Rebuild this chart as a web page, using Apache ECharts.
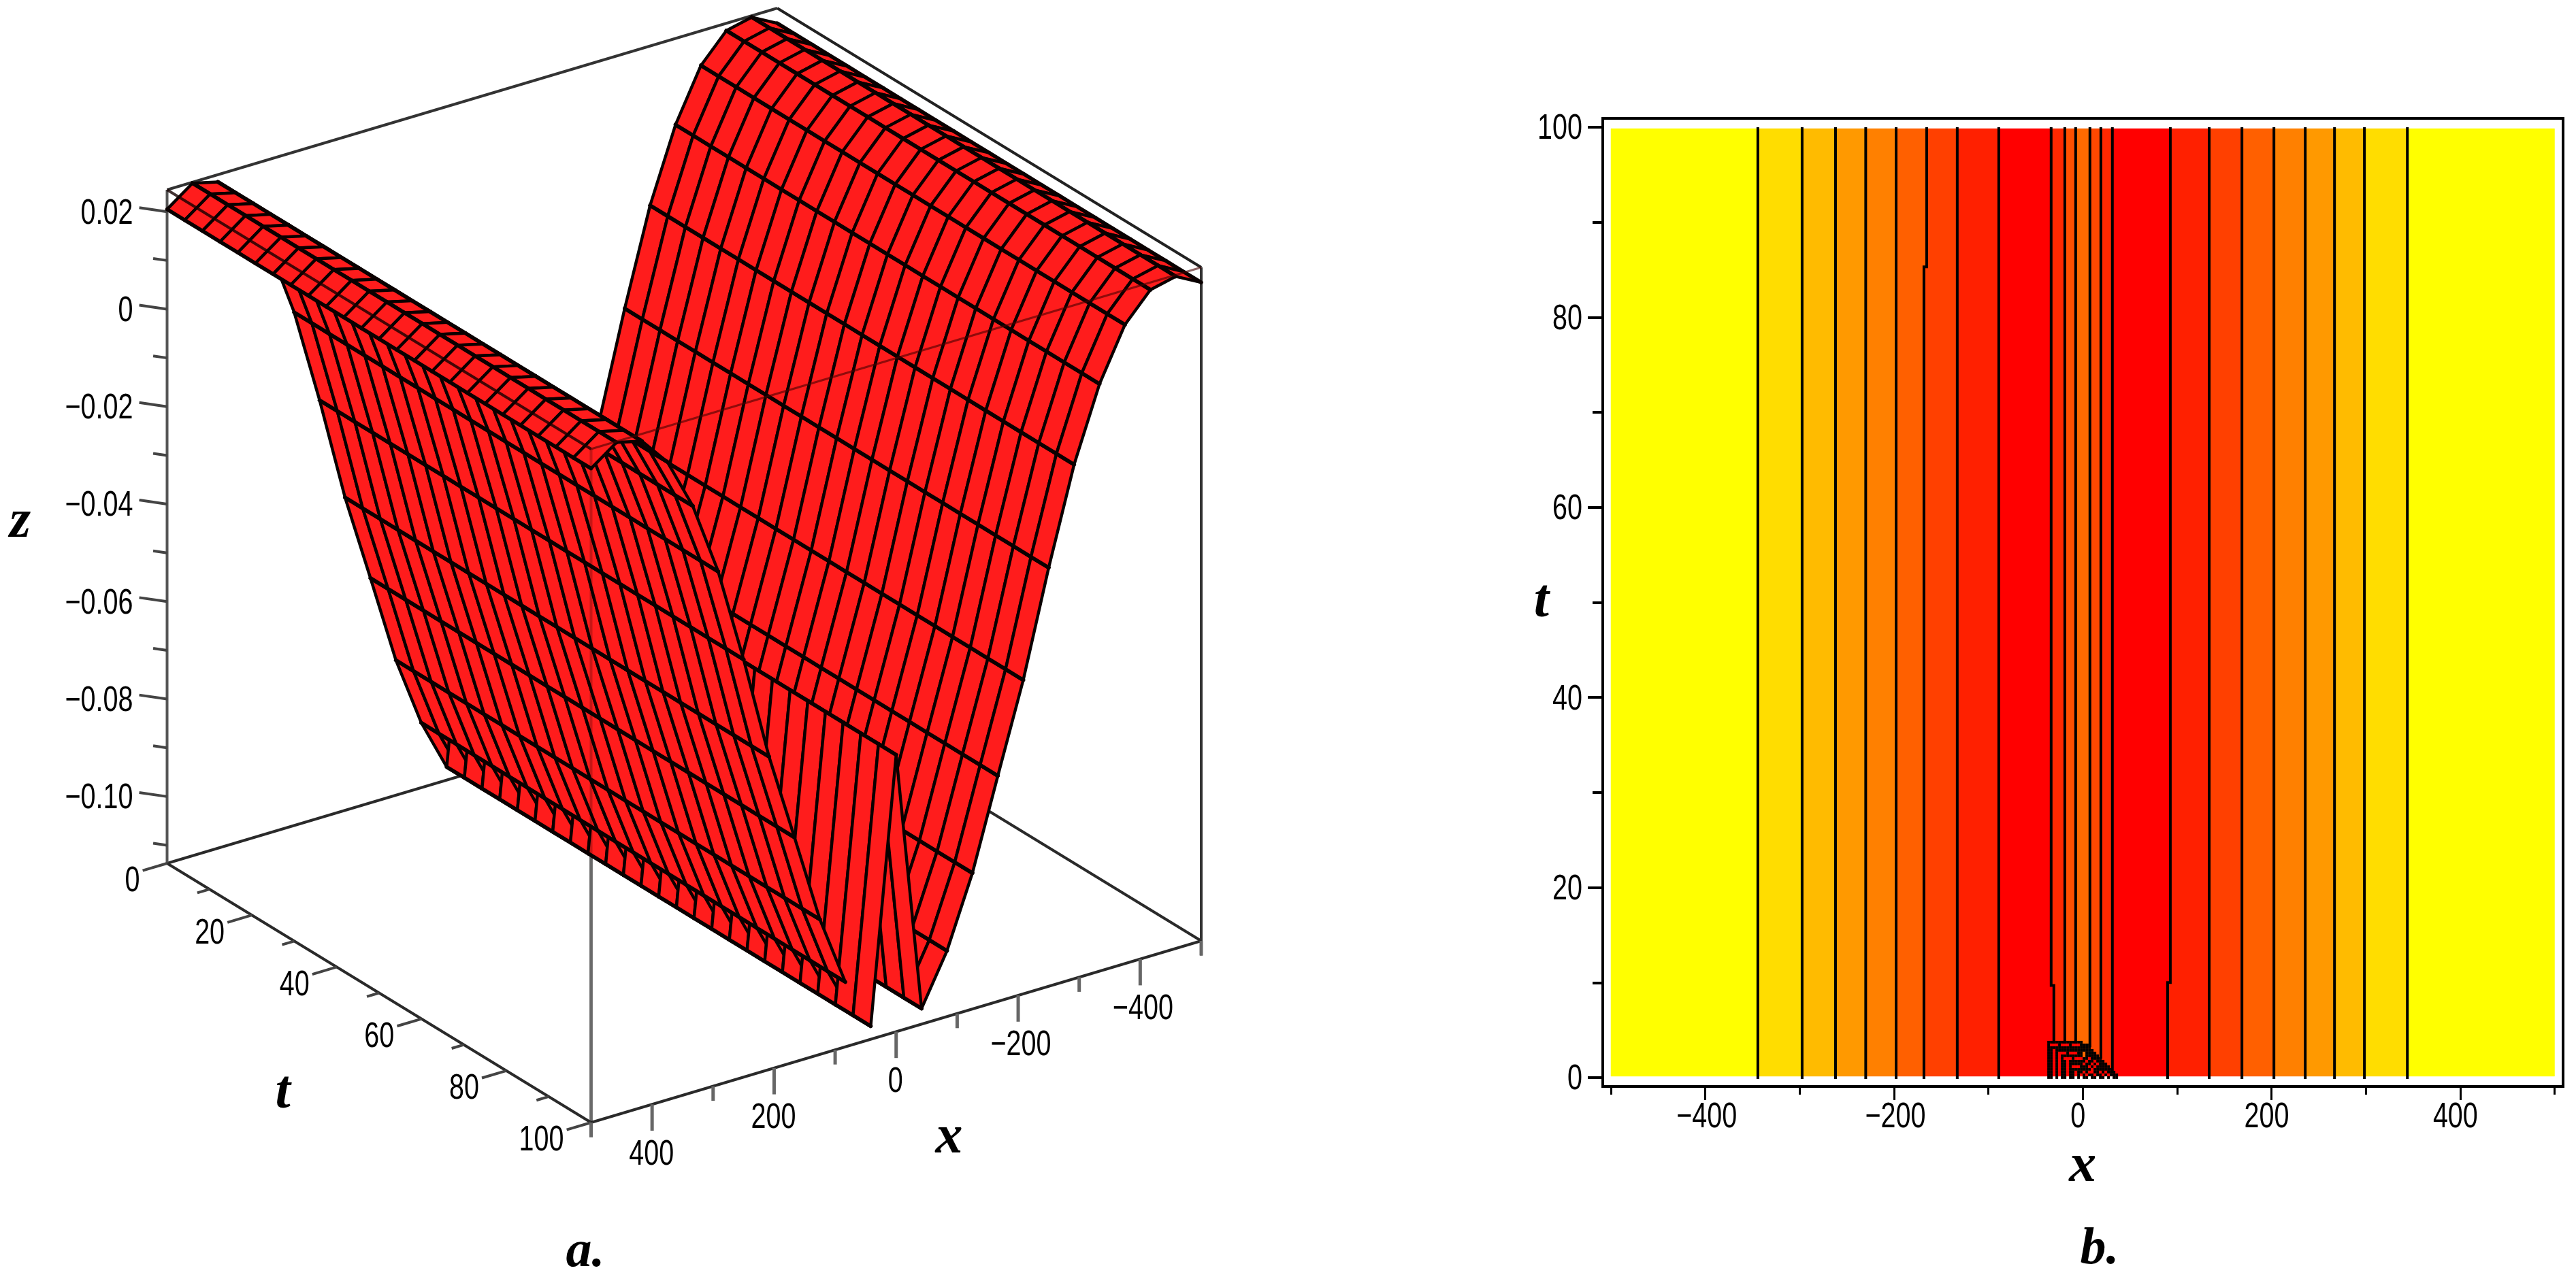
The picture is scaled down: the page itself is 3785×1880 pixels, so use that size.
<!DOCTYPE html>
<html>
<head>
<meta charset="utf-8">
<style>html,body{margin:0;padding:0;background:#fff}#c{width:3785px;height:1880px}</style>
<script src="https://cdn.jsdelivr.net/npm/echarts@6/dist/echarts.min.js"></script>
</head>
<body>
<div id="c"></div>
<script>
// ---------- panel a: surface data ----------
const xValues = [-500,-458.33,-416.67,-375,-333.33,-291.67,-250,-208.33,-166.67,-125,-83.33,-41.67,0,41.67,83.33,125,166.67,208.33,250,291.67,333.33,375,416.67,458.33,500];
const tValues = [0,4.17,8.33,12.5,16.67,20.83,25,29.17,33.33,37.5,41.67,45.83,50,54.17,58.33,62.5,66.67,70.83,75,79.17,83.33,87.5,91.67,95.83,100];
const zProfile = [0.0214,0.0242,0.0230,0.0174,0.0068,-0.0082,-0.0278,-0.0493,-0.0674,-0.0858,-0.1002,-0.1105,-0.0569,-0.1110,-0.1004,-0.0860,-0.0676,-0.0495,-0.0280,-0.0084,0.0066,0.0172,0.0230,0.0243,0.0205];
const zMin = -0.1137, zMax = 0.0245;
const zMajor = [0.02,0,-0.02,-0.04,-0.06,-0.08,-0.10];
const zMinor = [0.01,-0.01,-0.03,-0.05,-0.07,-0.09,-0.11];
const zLabels = ['0.02','0','\u22120.02','\u22120.04','\u22120.06','\u22120.08','\u22120.10'];
const tMajor3d = [0,20,40,60,80,100];
const tMinor3d = [10,30,50,70,90];
const xMajor3d = [400,200,0,-200,-400];
const xMinor3d = [500,300,100,-100,-300,-500];
// ---------- panel b: contour data ----------
const contourLines = [
 [[-344.3,100],[-344.3,-0.15]],
 [[-297.4,100],[-297.4,-0.15]],
 [[-262,100],[-262,-0.15]],
 [[-230,100],[-230,-0.15]],
 [[-197.8,100],[-197.8,-0.15]],
 [[-165.4,100],[-165.4,85.3],[-168.3,85.3],[-168.3,-0.15]],
 [[-133,100],[-133,-0.15]],
 [[-89,100],[-89,-0.15]],
 [[-33.5,100],[-33.5,9.7],[-30.6,9.7],[-30.6,3.5]],
 [[-19,100],[-19,3.5]],
 [[-7.5,100],[-7.5,3.5]],
 [[7.6,100],[7.6,3.2]],
 [[19.2,100],[19.2,2]],
 [[31.4,100],[31.4,0.5]],
 [[92.8,100],[92.8,10],[89.9,10],[89.9,-0.15]],
 [[134,100],[134,-0.15]],
 [[168.7,100],[168.7,-0.15]],
 [[202.6,100],[202.6,-0.15]],
 [[235.8,100],[235.8,-0.15]],
 [[266.8,100],[266.8,-0.15]],
 [[298.5,100],[298.5,-0.15]],
 [[344,100],[344,-0.15]]
];
const bandColors = ['#FFFF00','#FFDD00','#FFBB00','#FF9900','#FF8000','#FF6000','#FF4000','#FF2000','#FF0000','#FF2800','#FF5000','#FF6A00','#FF4800','#FF2800','#FF0000','#FF2000','#FF4000','#FF6000','#FF8000','#FF9900','#FFBB00','#FFDD00','#FFFF00'];
const blobRows = [
 'KKKKKKKKKKKKK.............',
 'KrrrKrrrKrrrKKKK..........',
 'KKKKKKKKKKKKKKKK..........',
 'KKrKKKKKKKKKKKKKK.........',
 'KKrKrrrKrrrKKoKKKK........',
 'KKrKrKKKKKKKKoKKKKK.......',
 'KKrKrKrrrKrrrKKrKKKK......',
 'KKrKrKKrKKKKKKrKKrKKK.....',
 'KKrKrKKrKKKKKrKKrKrKKK....',
 'KKrKrKKrKrrrKKKrKrKKKKK...',
 'KKrKrKKrKKKKKKKKrKKKKKKK..',
 'KKrKrKKrKKrKKrKrrKKrKrKKK.',
 'KKrKrKKrKKrKrKrKKrKKrKrKKK',
 'KK.K.KK.KK.K.KK.KK.KK.K.KK'
];
const xTickMajor2d = [-400,-200,0,200,400];
const tTickMajor2d = [0,20,40,60,80,100];

const LABEL_FONT = '52px "Liberation Sans",sans-serif';
const LABEL_SCALE = 0.76;
const NAME_FONT = 'italic bold 80px "Liberation Serif",serif';

// ---------- oblique box projection onto the hidden plane axes ----------
function plane(x,t,z){
  const X=(500-x)/1000, T=t/100, Z=(z-zMin)/(zMax-zMin);
  return [X*896.5+T*623, (1-T)*381+X*267+Z*990];
}
function depth(x,t,z){
  const X=(500-x)/1000, T=t/100, Z=(z-zMin)/(zMax-zMin);
  return -0.5163*X+0.743*T+0.4252*Z;
}
const quads=[];
for(let i=0;i<xValues.length-1;i++){
  for(let j=0;j<tValues.length-1;j++){
    const corners=[[i,j],[i+1,j],[i+1,j+1],[i,j+1]].map(([a,b])=>[xValues[a],tValues[b],zProfile[a]]);
    const d=corners.reduce((s,c)=>s+depth(c[0],c[1],c[2]),0)/4;
    quads.push({corners,d});
  }
}
quads.sort((a,b)=>a.d-b.d);

const backSegs=[], frontSegs=[], texts=[];
function seg(list,p,q,color,w){list.push({p,q,color,w});}
const K='#2a2a2a';
seg(backSegs,[500,0,zMin],[-500,0,zMin],K,4);
seg(backSegs,[-500,0,zMin],[-500,100,zMin],K,4);
seg(backSegs,[500,0,zMax],[-500,0,zMax],'#333',4);
seg(backSegs,[-500,0,zMax],[-500,100,zMax],'#222',4);
seg(backSegs,[500,0,zMin],[500,0,zMax],'#555',4);
seg(backSegs,[-500,100,zMin-0.003],[-500,100,zMax],'#333',4);
seg(backSegs,[500,100,zMin-0.003],[500,100,zMax],'#888',5);
seg(backSegs,[500,0,zMin],[500,100,zMin],K,4);
seg(backSegs,[500,100,zMin],[-500,100,zMin],K,4);
tMajor3d.forEach(t=>seg(backSegs,[500,t,zMin],[540,t,zMin],'#444',4));
tMinor3d.forEach(t=>seg(backSegs,[500,t,zMin],[520,t,zMin],'#444',4));
xMajor3d.forEach(x=>seg(backSegs,[x,100,zMin],[x,100,zMin-0.0054],'#666',5));
xMinor3d.forEach(x=>seg(backSegs,[x,100,zMin],[x,100,zMin-0.003],'#666',5));
function zTick(z,a){return [[500,0,z],[500+23.4*a,-3.2*a,z]];}
zMajor.forEach(z=>{const s=zTick(z,1);seg(backSegs,s[0],s[1],'#444',4);});
zMinor.forEach(z=>{const s=zTick(z,0.5);seg(backSegs,s[0],s[1],'#444',4);});
seg(frontSegs,[500,100,zMin],[500,100,zMax],'rgba(0,0,0,0.22)',4);
seg(frontSegs,[500,100,zMax],[-500,100,zMax],'rgba(70,0,0,0.6)',3);
seg(frontSegs,[500,0,zMax],[500,100,zMax],'rgba(20,0,0,0.8)',4);

zMajor.forEach((z,i)=>texts.push({p:[500,0,z],dx:-50,dy:3,text:zLabels[i],align:'right'}));
tMajor3d.forEach(t=>texts.push({p:[500,t,zMin],dx:-40,dy:27,text:String(t),align:'right'}));
xMajor3d.forEach(x=>texts.push({p:[x,100,zMin],dx:x<0?4:-1,dy:74,text:String(x).replace('-','\u2212'),align:'center'}));

function pt(api,p){return api.coord(plane(p[0],p[1],p[2]));}
function segItem(api,s){
  const a=pt(api,s.p),b=pt(api,s.q);
  return {type:'line',shape:{x1:a[0],y1:a[1],x2:b[0],y2:b[1]},style:{stroke:s.color,lineWidth:s.w,lineCap:'butt'}};
}
function labelItem(px,py,text,align){
  return {type:'text',x:px,y:py,scaleX:LABEL_SCALE,scaleY:1,
    style:{text,x:0,y:0,align,verticalAlign:'middle',font:LABEL_FONT,fill:'#000'}};
}
const bands=[];
const edgeL=[[-500,100],[-500,0]], edgeR=[[500,100],[500,0]];
const boundaries=[edgeL,...contourLines,edgeR];
boundaries.slice(0,-1).forEach((b,i)=>{
  const clamp=p=>[p[0],Math.min(99.85,Math.max(0.15,p[1]))];
  const r=boundaries[i+1];
  const extend=l=>{const e=l[l.length-1];return e[1]>0.15?[...l,[e[0],0.15]]:l;};
  bands.push({poly:[...extend(b).map(clamp),...extend(r).map(clamp).reverse()],color:bandColors[i]});
});
const cells=[];
blobRows.forEach((row,j)=>{
  [...row].forEach((ch,k)=>{
    if(ch==='.')return;
    cells.push({x0:-37.6+2.885*k,x1:-37.6+2.885*(k+1),t0:3.87-0.286*j,t1:3.87-0.286*(j+1),color:ch==='K'?'#000':(ch==='r'?'#FF0000':'#FF6A00')});
  });
});

const hidden={show:false,type:'value'};
const nameStyle={fontFamily:'Liberation Serif',fontStyle:'italic',fontWeight:'bold',fontSize:80,color:'#000'};
const option={
  animation:false,
  backgroundColor:'#fff',
  title:[
    {text:'a.',left:855,top:1836,textAlign:'center',textVerticalAlign:'middle',textStyle:{fontFamily:'Liberation Serif',fontStyle:'italic',fontWeight:'bold',fontSize:76,color:'#000'}},
    {text:'b.',left:3080,top:1832,textAlign:'center',textVerticalAlign:'middle',textStyle:{fontFamily:'Liberation Serif',fontStyle:'italic',fontWeight:'bold',fontSize:76,color:'#000'}}
  ],
  grid:[
    {left:245.5,top:12,width:1519.5,height:1638,show:false,containLabel:false},
    {left:2355,top:174,width:1411,height:1423,show:true,backgroundColor:'#fff',borderColor:'#000',borderWidth:4,z:0},
    {left:2367,top:187,width:1386.5,height:1397,show:false,containLabel:false}
  ],
  xAxis:[
    {...hidden,gridIndex:0,min:0,max:1519.5},
    {...hidden,gridIndex:1,min:0,max:1},
    {type:'value',gridIndex:2,min:-500,max:500,interval:100,position:'bottom',offset:13,splitLine:{show:false},axisLine:{show:false,onZero:false},
      axisTick:{show:true,length:12,lineStyle:{color:'#000',width:3}},axisLabel:{show:false}},
    {type:'value',gridIndex:2,min:-500,max:500,position:'bottom',offset:13,splitLine:{show:false},axisLine:{show:false,onZero:false},
      axisTick:{show:true,length:20,lineStyle:{color:'#000',width:3},customValues:xTickMajor2d},
      axisLabel:{show:false},
      name:'x',nameLocation:'middle',nameGap:78,nameTextStyle:nameStyle}
  ],
  yAxis:[
    {...hidden,gridIndex:0,min:0,max:1638},
    {...hidden,gridIndex:1,min:0,max:1},
    {type:'value',gridIndex:2,min:0,max:100,interval:20,position:'left',offset:13,splitLine:{show:false},axisLine:{show:false,onZero:false},
      axisTick:{show:true,length:21,lineStyle:{color:'#000',width:4}},
      minorTick:{show:true,splitNumber:2,length:14,lineStyle:{color:'#000',width:4}},minorSplitLine:{show:false},
      axisLabel:{show:false},
      name:'t',nameLocation:'middle',nameRotate:0,nameGap:78,nameTextStyle:{...nameStyle,padding:[14,0,0,0]}}
  ],
  series:[
    {type:'custom',coordinateSystem:'cartesian2d',xAxisIndex:0,yAxisIndex:0,silent:true,clip:false,z:2,
      data:backSegs.map((s,i)=>[i]),encode:{x:[],y:[]},
      renderItem:(params,api)=>segItem(api,backSegs[params.dataIndex])},
    {type:'custom',coordinateSystem:'cartesian2d',xAxisIndex:0,yAxisIndex:0,silent:true,clip:false,z:3,
      data:quads.map((q,i)=>[i]),encode:{x:[],y:[]},
      renderItem:(params,api)=>{
        const q=quads[params.dataIndex], P=q.corners.map(c=>pt(api,c));
        const edge=(a,b,w)=>({type:'line',shape:{x1:P[a][0],y1:P[a][1],x2:P[b][0],y2:P[b][1]},
          style:{stroke:'#0a0000',lineWidth:w,lineCap:'round'}});
        return {type:'group',children:[
          {type:'polygon',shape:{points:P},style:{fill:'#FF1C1C'}},
          edge(0,1,4.4),edge(2,3,4.4),edge(1,2,5.6),edge(3,0,5.6)
        ]};
      }},
    {type:'custom',coordinateSystem:'cartesian2d',xAxisIndex:0,yAxisIndex:0,silent:true,clip:false,z:4,
      data:frontSegs.map((s,i)=>[i]),encode:{x:[],y:[]},
      renderItem:(params,api)=>segItem(api,frontSegs[params.dataIndex])},
    {type:'custom',coordinateSystem:'cartesian2d',xAxisIndex:0,yAxisIndex:0,silent:true,clip:false,z:5,
      data:texts.map((s,i)=>[i]),encode:{x:[],y:[]},
      renderItem:(params,api)=>{
        const s=texts[params.dataIndex],a=pt(api,s.p);
        return labelItem(a[0]+s.dx,a[1]+s.dy,s.text,s.align);
      }},
    {type:'custom',coordinateSystem:'cartesian2d',xAxisIndex:0,yAxisIndex:0,silent:true,clip:false,z:5,
      data:[[0],[1],[2]],encode:{x:[],y:[]},
      renderItem:(params,api)=>{
        const n=[{text:'z',p:[500,0,-0.0445],dx:-216,dy:-5},{text:'t',p:[500,48,zMin],dx:-129,dy:155},{text:'x',p:[-50,100,zMin],dx:33,dy:170}][params.dataIndex];
        const a=pt(api,n.p);
        return {type:'text',style:{text:n.text,x:a[0]+n.dx,y:a[1]+n.dy,align:'center',verticalAlign:'middle',font:NAME_FONT,fill:'#000'}};
      }},
    {type:'custom',coordinateSystem:'cartesian2d',xAxisIndex:2,yAxisIndex:2,silent:true,clip:false,z:3,
      data:bands.map((b,i)=>[i]),encode:{x:[],y:[]},
      renderItem:(params,api)=>{
        const b=bands[params.dataIndex];
        return {type:'polygon',shape:{points:b.poly.map(p=>api.coord(p))},style:{fill:b.color,stroke:b.color,lineWidth:0.5}};
      }},
    {type:'custom',coordinateSystem:'cartesian2d',xAxisIndex:2,yAxisIndex:2,silent:true,clip:false,z:4,
      data:contourLines.map((b,i)=>[i]),encode:{x:[],y:[]},
      renderItem:(params,api)=>({type:'polyline',shape:{points:contourLines[params.dataIndex].map(p=>api.coord(p))},
        style:{stroke:'#000',fill:null,lineWidth:4,lineJoin:'miter'}})},
    {type:'custom',coordinateSystem:'cartesian2d',xAxisIndex:2,yAxisIndex:2,silent:true,clip:false,z:5,
      data:cells.map((b,i)=>[i]),encode:{x:[],y:[]},
      renderItem:(params,api)=>{
        const c=cells[params.dataIndex],a=api.coord([c.x0,c.t0]),b=api.coord([c.x1,c.t1]);
        return {type:'rect',shape:{x:a[0],y:a[1],width:b[0]-a[0],height:b[1]-a[1]},style:{fill:c.color}};
      }},
    {type:'custom',coordinateSystem:'cartesian2d',xAxisIndex:2,yAxisIndex:2,silent:true,clip:false,z:5,
      data:tTickMajor2d.map(t=>[t]),encode:{x:[],y:[]},
      renderItem:(params,api)=>{
        const a=api.coord([-500,api.value(0)]);
        return labelItem(a[0]-42,a[1]+3,String(api.value(0)),'right');
      }},
    {type:'custom',coordinateSystem:'cartesian2d',xAxisIndex:2,yAxisIndex:2,silent:true,clip:false,z:5,
      data:xTickMajor2d.map(x=>[x]),encode:{x:[],y:[]},
      renderItem:(params,api)=>{
        const v=api.value(0), a=api.coord([v,0]);
        return labelItem(a[0]+(v<0?2:-7),a[1]+59,String(v).replace('-','\u2212'),'center');
      }}
  ]
};
const chart=echarts.init(document.getElementById('c'),null,{renderer:'canvas',width:3785,height:1880});
chart.setOption(option);
</script>
</body>
</html>
